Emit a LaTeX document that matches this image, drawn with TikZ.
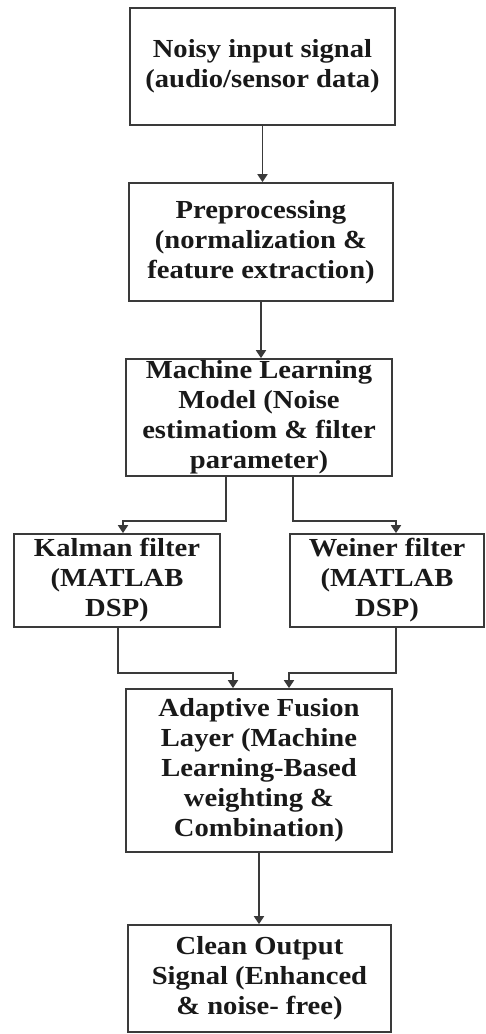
\documentclass[tikz,border=0pt]{standalone}
\usepackage{fontspec}
\setmainfont{Liberation Serif}[FakeStretch=1.1]
\usetikzlibrary{arrows.meta,positioning}
\definecolor{edgegray}{HTML}{3A3A3A}

\begin{document}
\begin{tikzpicture}[x=1pt,y=-1pt,
  blk/.style={draw=edgegray,line width=1.7pt,inner sep=0pt,align=center,
    font=\bfseries\fontsize{26}{30}\selectfont,text=black!90},
  arr/.style={draw=edgegray,line width=1.7pt,-{Triangle[width=10pt,length=8pt]}}]
\useasboundingbox (0,0) rectangle (485,1034);
% main chain and the two filters
\node[blk,minimum width=265,minimum height=117] (inp) at (262.5,66.5){Noisy input signal\\(audio/sensor data)};
\node[blk,minimum width=264,minimum height=118] (prep) at (261,242){Preprocessing\\(normalization \&\\feature extraction)};
\node[blk,minimum width=266,minimum height=117] (ml) at (259,417.5){Machine Learning\\Model (Noise\\estimatiom \& filter\\parameter)};
\node[blk,minimum width=206,minimum height=93] (kal) at (117,580.5){Kalman filter\\(MATLAB\\DSP)};
\node[blk,minimum width=194,minimum height=93] (wei) at (387,580.5){Weiner filter\\(MATLAB\\DSP)};
\node[blk,minimum width=266,minimum height=163] (fus) at (259,770.5){Adaptive Fusion\\Layer (Machine\\Learning-Based\\weighting \&\\Combination)};
\node[blk,minimum width=263,minimum height=107] (out) at (259.5,978.5){Clean Output\\Signal (Enhanced\\\& noise- free)};
% connectors
\draw[arr] (inp.south) -- (inp.south |- prep.north);
\draw[arr] (prep.south) -- (prep.south |- ml.north);
\draw[arr] ([xshift=-33pt]ml.south) -- ++(0,44) -| ([xshift=6pt]kal.north);
\draw[arr] ([xshift=34pt]ml.south) -- ++(0,44) -| ([xshift=9pt]wei.north);
\draw[arr] ([xshift=1pt]kal.south) -- ++(0,45) -| ([xshift=-26pt]fus.north);
\draw[arr] ([xshift=9pt]wei.south) -- ++(0,45) -| ([xshift=30pt]fus.north);
\draw[arr] (fus.south) -- (fus.south |- out.north);
\end{tikzpicture}
\end{document}
